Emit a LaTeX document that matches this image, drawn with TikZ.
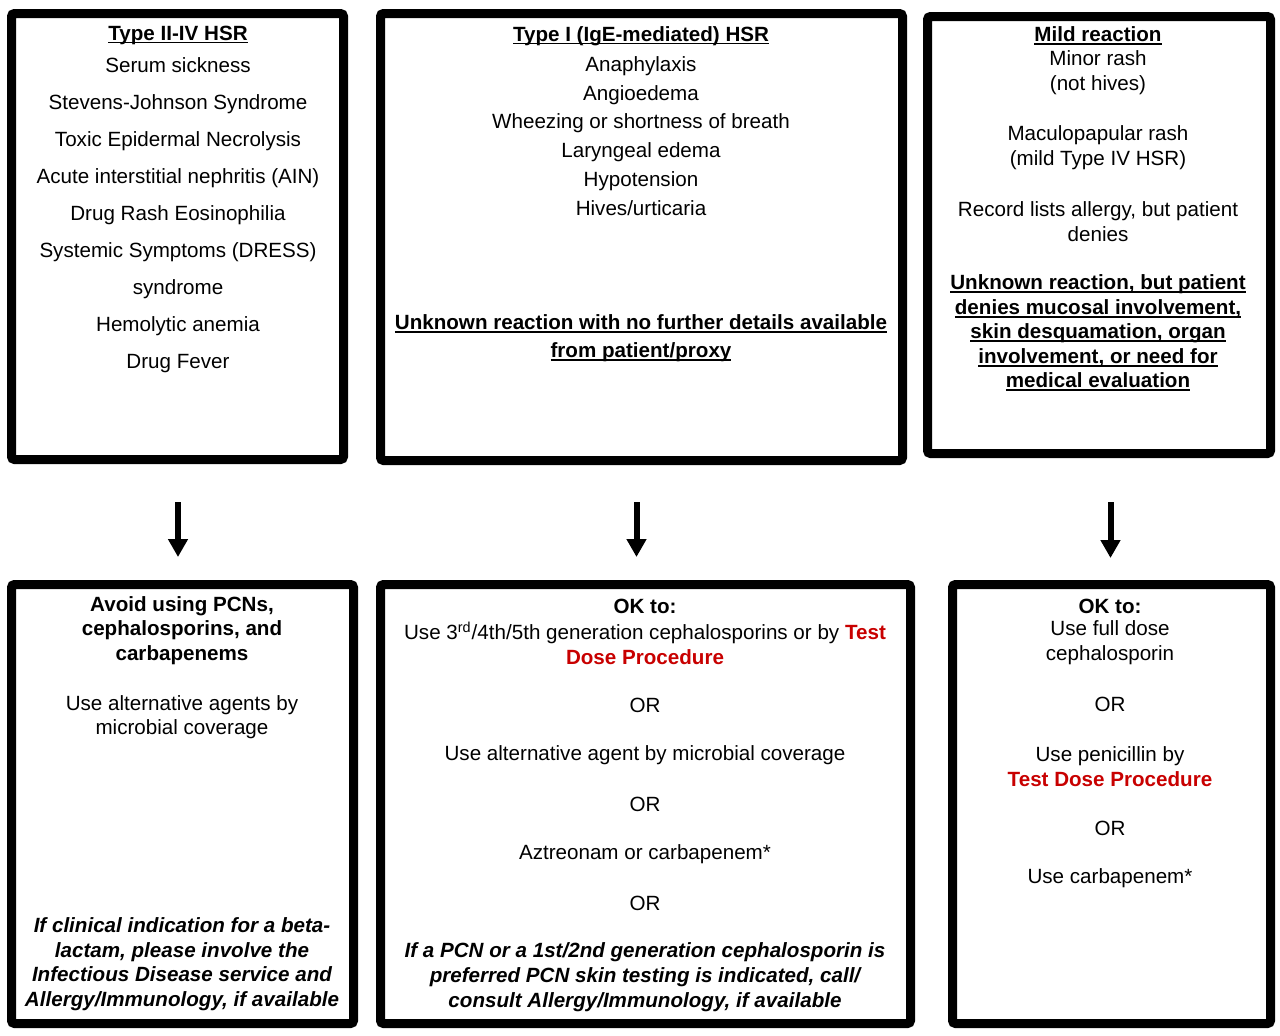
\documentclass[tikz,border=0pt]{standalone}
\usepackage{fontspec}
\setmainfont{Liberation Sans}
\usetikzlibrary{arrows.meta}
\definecolor{tdred}{RGB}{200,0,0}
\newsavebox\ulsave
\newcommand\ulbox[1]{\sbox\ulsave{#1}\rlap{\rule[-1.6pt]{\wd\ulsave}{0.8pt}}\usebox\ulsave}
\newcommand\tdp[1]{\textcolor{tdred}{\textbf{#1}}}
\newcommand\fz[1]{\fontsize{10.3}{#1}\selectfont}
\tikzset{
  panel/.style={draw, line width=4.5pt, rounded corners=1.5pt, inner sep=0pt},
  txt/.style={inner sep=0pt, align=center, font=\fz{12.3}},
  flow/.style={line width=3pt, -{Triangle[width=9.5pt,length=9pt]}}
}
\begin{document}
\begin{tikzpicture}[x=0.5pt,y=-0.5pt]
\useasboundingbox (0,0) rectangle (1280,1035);
% panels
\node[panel, minimum width=166pt, minimum height=223pt] (b1) at (177.5,236.5) {};
\node[panel, minimum width=261pt, minimum height=223.5pt] (b2) at (641.5,237) {};
\node[panel, minimum width=171.5pt, minimum height=218.5pt] (b3) at (1099,235) {};
\node[panel, minimum width=171pt, minimum height=219.5pt] (b4) at (182.5,804) {};
\node[panel, minimum width=265pt, minimum height=219.5pt] (b5) at (645.5,804) {};
\node[panel, minimum width=159pt, minimum height=219.5pt] (b6) at (1111.5,804) {};
\begin{scope}[yshift=-1pt]
% box 1
\node[txt] (t1a) at (178,33) {\textbf{\ulbox{Type II-IV HSR}}};
\node[txt, font=\fz{18.5}] (t1b) at (178,213) {Serum sickness\\Stevens-Johnson Syndrome\\Toxic Epidermal Necrolysis\\Acute interstitial nephritis (AIN)\\Drug Rash Eosinophilia\\Systemic Symptoms (DRESS)\\syndrome\\Hemolytic anemia\\Drug Fever};
% box 2
\node[txt] (t2a) at (641,34) {\textbf{\ulbox{Type I (IgE-mediated) HSR}}};
\node[txt, font=\fz{14.4}] (t2b) at (641,134) {Anaphylaxis\\Angioedema\\Wheezing or shortness of breath\\Laryngeal edema\\Hypotension\\Hives/urticaria};
\node[txt, font=\fz{14}\bfseries] (t2c) at (641,336) {\ulbox{Unknown reaction with no further details available}\\\ulbox{from patient/proxy}};
% box 3
\node[txt] (t3a) at (1098,34) {\textbf{\ulbox{Mild reaction}}};
\node[txt] (t3b) at (1098,70.5) {Minor rash\\(not hives)};
\node[txt] (t3c) at (1098,145.5) {Maculopapular rash\\(mild Type IV HSR)};
\node[txt] (t3d) at (1098,219.5) {Record lists allergy, but patient\\denies};
\node[txt, font=\fz{12.25}\bfseries] (t3e) at (1098,331) {\ulbox{Unknown reaction, but patient}\\\ulbox{denies mucosal involvement,}\\\ulbox{skin desquamation, organ}\\\ulbox{involvement, or need for}\\\ulbox{medical evaluation}};
% box 4
\node[txt, font=\fz{12.3}\bfseries] (t4a) at (182,628.5) {Avoid using PCNs,\\cephalosporins, and\\carbapenems};
\node[txt] (t4b) at (182,715) {Use alternative agents by\\microbial coverage};
\node[txt, font=\fz{12.33}\bfseries\itshape] (t4c) at (182,962) {If clinical indication for a beta-\\lactam, please involve the\\Infectious Disease service and\\Allergy/Immunology, if available};
% box 5
\node[txt] (t5a) at (645,604) {\textbf{OK to:}};
\node[txt, font=\fz{12.5}] (t5b) at (645,641.5) {Use 3\textsuperscript{rd}/4th/5th generation cephalosporins or by \tdp{Test}\\\tdp{Dose Procedure}};
\node[txt] (t5c) at (645,703) {OR};
\node[txt] (t5d) at (645,753) {Use alternative agent by microbial coverage};
\node[txt] (t5e) at (645,802) {OR};
\node[txt] (t5f) at (645,852) {Aztreonam or carbapenem*};
\node[txt] (t5g) at (645,901) {OR};
\node[txt, font=\fz{12.5}\bfseries\itshape] (t5h) at (645,975) {If a PCN or a 1st/2nd generation cephalosporin is\\preferred PCN skin testing is indicated, call/\\consult Allergy/Immunology, if available};
% box 6
\node[txt] (t6a) at (1110,604) {\textbf{OK to:}};
\node[txt, font=\fz{12.5}] (t6b) at (1110,640.5) {Use full dose\\cephalosporin};
\node[txt] (t6c) at (1110,702) {OR};
\node[txt, font=\fz{12.5}] (t6d) at (1110,764.5) {Use penicillin by\\\tdp{Test Dose Procedure}};
\node[txt] (t6e) at (1110,826) {OR};
\node[txt] (t6f) at (1110,876) {Use carbapenem*};
\end{scope}
% arrows
\coordinate (a1s) at (178,502);
\coordinate (a1e) at (178,557);
\coordinate (a2s) at (636.5,502);
\coordinate (a2e) at (636.5,557);
\coordinate (a3s) at (1110.5,502);
\coordinate (a3e) at (1110.5,558);
\draw[flow] (a1s) -- (a1e);
\draw[flow] (a2s) -- (a2e);
\draw[flow] (a3s) -- (a3e);
\end{tikzpicture}
\end{document}
